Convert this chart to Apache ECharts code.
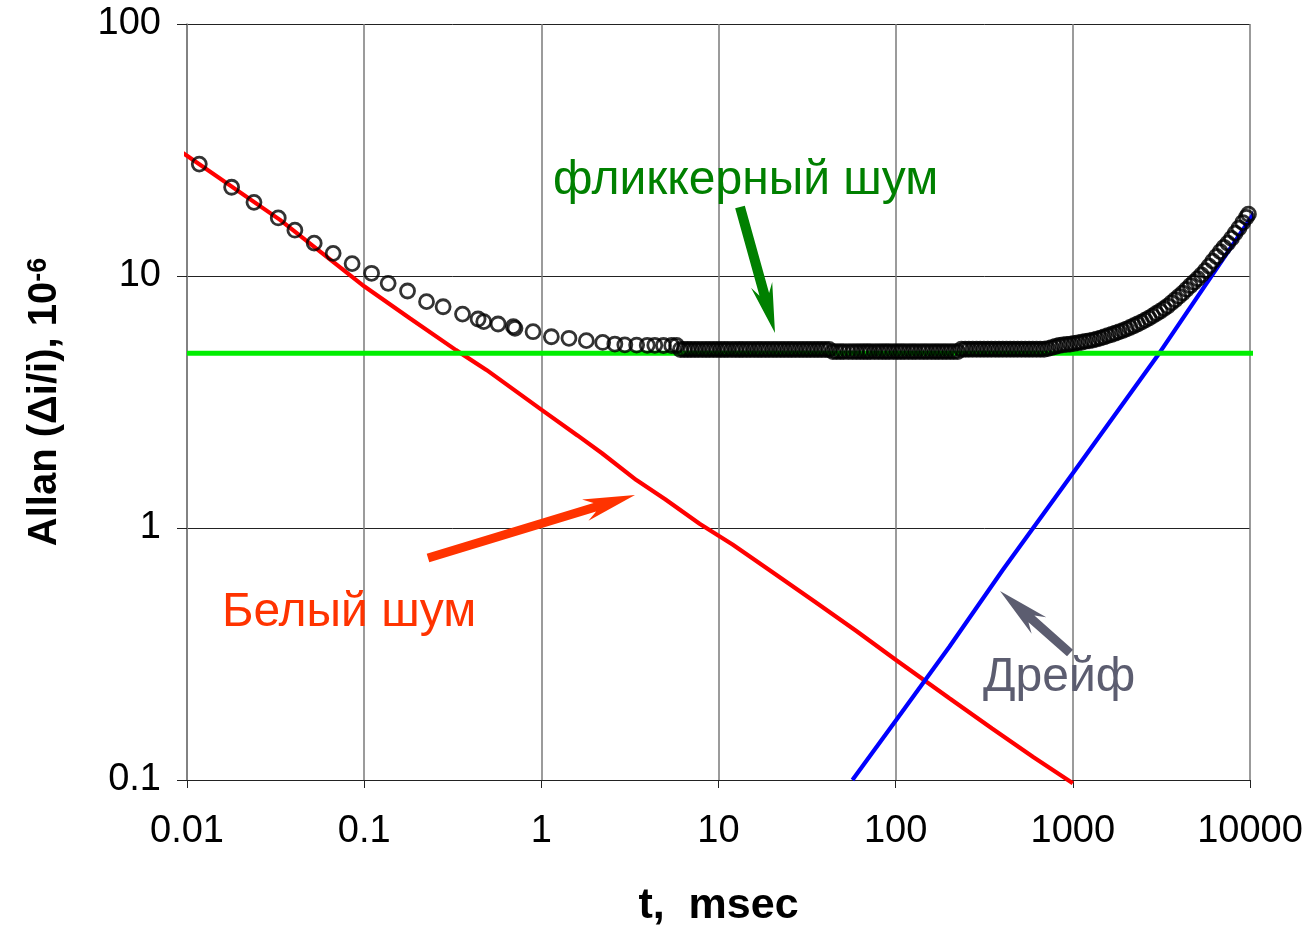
<!DOCTYPE html>
<html>
<head>
<meta charset="utf-8">
<title>Allan deviation</title>
<script src="https://cdn.jsdelivr.net/npm/echarts@6/dist/echarts.min.js"></script>
<style>
  html, body { margin: 0; padding: 0; background: #fff; }
  #chart { width: 1307px; height: 925px; }
</style>
</head>
<body>
<div id="chart"></div>
<script>
// tick labels
const xTickLabels = ['0.01', '0.1', '1', '10', '100', '1000', '10000'];
const yTickLabels = ['0.1', '1', '10', '100'];

// white noise (red line)
const whiteT = [0.0092, 0.01, 0.0335, 0.1, 0.181, 0.33, 0.49, 1, 1.6, 2.2, 3.44, 5, 7.82, 12, 20, 35, 60, 100, 201, 350, 600, 1000];
const whiteV = [31.2, 30, 16.7, 9.1, 6.8, 5.08, 4.24, 2.95, 2.33, 1.98, 1.55, 1.3, 1.04, 0.86, 0.67, 0.51, 0.39, 0.3, 0.211, 0.16, 0.123, 0.097];

// drift (blue line)
const driftT = [57, 100, 201, 402, 1000, 3076, 10000, 11520];
const driftV = [0.1, 0.172, 0.338, 0.681, 1.65, 4.94, 16.8, 19.6];

// flicker floor (green line)
const flickerT = [0.01, 11500];
const flickerV = [4.94, 4.94];

// measured Allan deviation, sparse part
const sparseT = [0.01173, 0.01786, 0.02388, 0.03274, 0.04064, 0.05224, 0.06683, 0.0855, 0.1101, 0.1366,
  0.1757, 0.2249, 0.279, 0.359, 0.4395, 0.473, 0.57, 0.695, 0.71, 0.898,
  1.139, 1.432, 1.795, 2.22, 2.6, 2.96, 3.45, 3.96, 4.37, 4.89, 5.44];
const sparseV = [27.8, 22.5, 19.6, 17.0, 15.2, 13.5, 12.3, 11.2, 10.25, 9.35,
  8.72, 7.91, 7.55, 7.06, 6.75, 6.59, 6.45, 6.3, 6.2, 6.01,
  5.74, 5.66, 5.54, 5.45, 5.37, 5.33, 5.32, 5.31, 5.31, 5.30, 5.30];

// measured Allan deviation, dense part (overlapping circles)
const denseT = [5.8,
  6.1, 6.4, 6.7, 7.0, 7.35, 7.7, 8.1, 8.5, 8.9, 9.35, 9.8, 10.3, 10.8, 11.3, 11.9, 12.5, 13.1, 13.7, 14.4, 15.1,
  15.9, 16.7, 17.5, 18.4, 19.3, 20.3, 21.3, 22.4, 23.5, 24.7, 25.9, 27.2, 28.6, 30, 31.5, 33, 34.7, 36.4, 38.2, 40.1, 42.1,
  44.2, 46.4, 48.7, 51, 54, 57, 60, 63, 66, 69, 72, 76, 80, 84, 88, 92, 97, 102, 107, 112, 118, 124, 130, 137, 144,
  151, 159, 167, 175, 184, 193, 203, 213, 224,
  235, 247, 259, 272, 286, 300, 315, 331, 347, 365, 383, 402, 422, 443, 465, 488, 513, 539, 566, 594, 624, 655, 688,
  722, 758, 796, 836, 878, 922, 968, 1016, 1067, 1120, 1176, 1235, 1297, 1362, 1430, 1500, 1575, 1655, 1735, 1820,
  1910, 2005, 2105, 2210, 2320, 2440, 2560, 2690, 2820, 2960, 3110, 3270, 3430, 3600, 3780, 3970, 4170, 4380, 4600,
  4830, 5070, 5320, 5590, 5870, 6160, 6470, 6790, 7130, 7490, 7860, 8250, 8670, 9100, 9550, 9800];
const denseV = [5.30,
  5.11, 5.11, 5.11, 5.11, 5.11, 5.11, 5.11, 5.11, 5.11, 5.11, 5.11, 5.11, 5.11, 5.11, 5.11, 5.11, 5.11, 5.11, 5.11, 5.11,
  5.11, 5.11, 5.11, 5.11, 5.11, 5.11, 5.11, 5.11, 5.11, 5.11, 5.11, 5.11, 5.11, 5.11, 5.11, 5.11, 5.11, 5.11, 5.11, 5.11, 5.11,
  5.01, 5.01, 5.01, 5.01, 5.01, 5.01, 5.01, 5.01, 5.01, 5.01, 5.01, 5.01, 5.01, 5.01, 5.01, 5.01, 5.01, 5.01, 5.01, 5.01, 5.01, 5.01, 5.01, 5.01, 5.01,
  5.01, 5.01, 5.01, 5.01, 5.01, 5.01, 5.01, 5.01, 5.01,
  5.12, 5.12, 5.12, 5.12, 5.12, 5.12, 5.12, 5.12, 5.12, 5.12, 5.12, 5.12, 5.12, 5.12, 5.12, 5.12, 5.12, 5.12, 5.12, 5.12, 5.12, 5.12, 5.12,
  5.15, 5.20, 5.25, 5.30, 5.33, 5.35, 5.37, 5.40, 5.43, 5.46, 5.50, 5.53, 5.57, 5.62, 5.67, 5.73, 5.80, 5.86, 5.93, 6.00,
  6.07, 6.16, 6.25, 6.35, 6.45, 6.56, 6.68, 6.81, 6.95, 7.10, 7.25, 7.42, 7.60, 7.82, 8.05, 8.30, 8.55, 8.85, 9.15,
  9.45, 9.75, 10.1, 10.5, 10.95, 11.45, 11.95, 12.5, 13.0, 13.5, 14.1, 14.8, 15.5, 16.3, 17.1, 17.6];

const FONT = '"Liberation Sans", Arial, sans-serif';

function zip(xs, ys) {
  return xs.map((x, i) => [x, ys[i]]);
}

function decadeLabel(labels, first) {
  return (v) => {
    const e = Math.round(Math.log10(v));
    return labels[e - first] || '';
  };
}

// notched block arrow, pixel coords, tail -> tip
function blockArrow(x1, y1, x2, y2, shaftW, headLen, headW, neck, color) {
  const dx = x2 - x1, dy = y2 - y1;
  const len = Math.hypot(dx, dy);
  const ux = dx / len, uy = dy / len;
  const nx = -uy, ny = ux;
  const at = (back, side) => [x2 - ux * back + nx * side, y2 - uy * back + ny * side];
  const s = shaftW / 2;
  const pts = [
    at(len, s), at(neck, s), at(headLen, headW), [x2, y2],
    at(headLen, -headW), at(neck, -s), at(len, -s)
  ];
  return { type: 'polygon', shape: { points: pts }, style: { fill: color }, z: 100 };
}

const chart = echarts.init(document.getElementById('chart'), null, { renderer: 'canvas' });

chart.setOption({
  animation: false,
  backgroundColor: '#fff',
  grid: { left: 187, right: 57, top: 24, bottom: 145, containLabel: false, outerBoundsMode: 'none' },
  xAxis: {
    type: 'log',
    logBase: 10,
    min: 0.01,
    max: 10000,
    splitNumber: 6,
    name: 't,  msec',
    nameLocation: 'middle',
    nameGap: 105,
    nameTextStyle: { fontFamily: FONT, fontSize: 43, fontWeight: 'bold', color: '#000' },
    axisLine: { show: true, lineStyle: { color: '#222', width: 1.2 } },
    axisTick: { show: true, length: 8, lineStyle: { color: '#222' } },
    axisLabel: {
      fontFamily: FONT, fontSize: 38, color: '#000', margin: 33,
      showMinLabel: true, showMaxLabel: true,
      formatter: decadeLabel(xTickLabels, -2)
    },
    splitLine: { show: true, lineStyle: { color: '#7a7a7a', width: 1.5 } },
    minorTick: { show: false }
  },
  yAxis: {
    type: 'log',
    logBase: 10,
    min: 0.1,
    max: 100,
    splitNumber: 3,
    name: 'Allan (Δi/i), 10{sup|-6}',
    nameLocation: 'middle',
    nameGap: 122,
    nameTextStyle: {
      fontFamily: FONT, fontSize: 40, fontWeight: 'bold', color: '#000',
      rich: {
        sup: { fontFamily: FONT, fontSize: 27, fontWeight: 'bold', color: '#000', verticalAlign: 'top', lineHeight: 40 }
      }
    },
    axisLine: { show: true, lineStyle: { color: '#7a7a7a', width: 1.5 } },
    axisTick: { show: true, length: 10, lineStyle: { color: '#222' } },
    axisLabel: {
      fontFamily: FONT, fontSize: 38, color: '#000', margin: 26,
      showMinLabel: true, showMaxLabel: true,
      formatter: decadeLabel(yTickLabels, -1)
    },
    splitLine: { show: true, lineStyle: { color: '#222', width: 1 } }
  },
  series: [
    {
      name: 'white',
      type: 'line',
      data: zip(whiteT, whiteV),
      showSymbol: false,
      clip: false,
      lineStyle: { color: '#ff0000', width: 4.2 },
      z: 2
    },
    {
      name: 'drift',
      type: 'line',
      data: zip(driftT, driftV),
      showSymbol: false,
      clip: false,
      lineStyle: { color: '#0000ff', width: 4.2 },
      z: 2
    },
    {
      name: 'flicker',
      type: 'line',
      data: zip(flickerT, flickerV),
      showSymbol: false,
      clip: false,
      lineStyle: { color: '#00ee00', width: 5 },
      z: 2
    },
    {
      name: 'allan',
      type: 'scatter',
      data: zip(sparseT, sparseV).concat(zip(denseT, denseV)),
      symbol: 'circle',
      symbolSize: 14,
      itemStyle: { color: 'rgba(0,0,0,0)', borderColor: '#000', borderWidth: 2.8 },
      z: 3
    }
  ],
  graphic: [
    { type: 'text', x: 553, y: 181, z: 100,
      style: { text: 'фликкерный шум', font: '48px ' + FONT, fill: '#008000', verticalAlign: 'middle' } },
    { type: 'text', x: 222, y: 613, z: 100,
      style: { text: 'Белый шум', font: '48px ' + FONT, fill: '#ff3300', verticalAlign: 'middle' } },
    { type: 'text', x: 983, y: 678, z: 100,
      style: { text: 'Дрейф', font: '48px ' + FONT, fill: '#5c5d70', verticalAlign: 'middle' } },
    blockArrow(740, 207, 775, 333, 10, 50, 11, 40, '#008000'),
    blockArrow(428, 558, 635, 495, 9, 52, 11, 42, '#ff3300'),
    blockArrow(1070, 653, 1000, 591, 9, 52, 11, 42, '#5c5d70')
  ]
});
</script>
</body>
</html>
